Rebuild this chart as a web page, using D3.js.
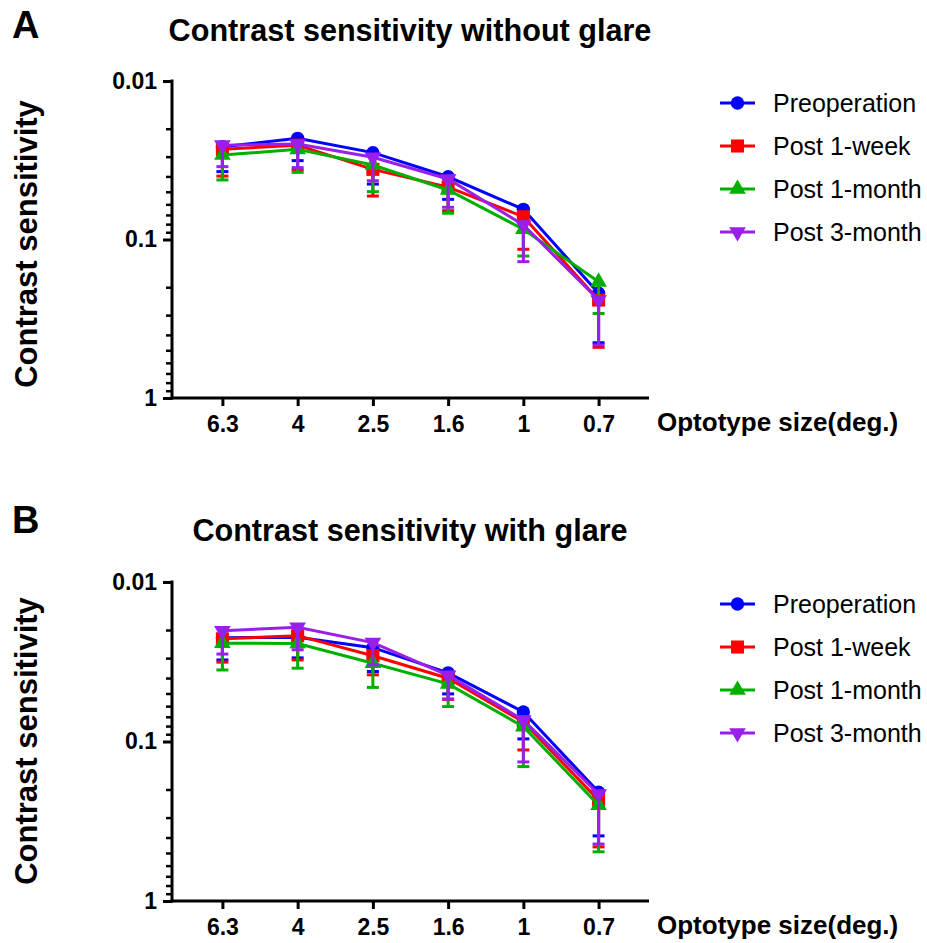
<!DOCTYPE html>
<html>
<head>
<meta charset="utf-8">
<script src="https://cdn.jsdelivr.net/npm/d3@7"></script>
<style>
  html, body { margin: 0; padding: 0; background: #fff; }
  svg { display: block; }
  text { font-family: "Liberation Sans", Arial, sans-serif; }
</style>
</head>
<body>
<svg id="chart" width="927" height="943"></svg>
<script>
// ---------------- data ----------------
const categories = ["6.3", "4", "2.5", "1.6", "1", "0.7"];
const seriesNames = ["Preoperation", "Post 1-week", "Post 1-month", "Post 3-month"];
const seriesColors = ["#0000FF", "#FF0000", "#00AF00", "#9B1FEA"];
const yTickValues = [0.01, 0.1, 1];
const yTickLabels = ["0.01", "0.1", "1"];

// Panel A: without glare (mean contrast threshold and SD)
const preA  = [0.0260, 0.0230, 0.0283, 0.0402, 0.0645, 0.218];
const wk1A  = [0.0270, 0.0254, 0.0361, 0.0467, 0.0718, 0.241];
const mo1A  = [0.0293, 0.0270, 0.0339, 0.0487, 0.0862, 0.185];
const mo3A  = [0.0254, 0.0250, 0.0303, 0.0415, 0.0810, 0.241];
const preA_sd = [0.0113, 0.0088, 0.0164, 0.0156, 0.025, 0.230];
const wk1A_sd = [0.0128, 0.0110, 0.0171, 0.0191, 0.0435, 0.238];
const mo1A_sd = [0.0128, 0.0107, 0.0160, 0.0196, 0.041, 0.108];
const mo3A_sd = [0.0093, 0.0102, 0.0123, 0.0211, 0.057, 0.222];

// Panel B: with glare
const preB  = [0.0224, 0.0222, 0.0258, 0.0371, 0.0653, 0.2076];
const wk1B  = [0.0227, 0.0217, 0.0290, 0.0401, 0.0755, 0.233];
const mo1B  = [0.0242, 0.0243, 0.0323, 0.0435, 0.0807, 0.2506];
const mo3B  = [0.0202, 0.0192, 0.0240, 0.0385, 0.0733, 0.2137];
const preB_sd = [0.0084, 0.0077, 0.0106, 0.0132, 0.031, 0.183];
const wk1B_sd = [0.0091, 0.0091, 0.0092, 0.0144, 0.0375, 0.225];
const mo1B_sd = [0.0114, 0.0104, 0.0135, 0.0169, 0.063, 0.241];
const mo3B_sd = [0.0081, 0.0074, 0.0091, 0.0156, 0.061, 0.226];

const panels = [
  { letter: "A", title: "Contrast sensitivity without glare", top: 81, bottom: 398,
    means: [preA, wk1A, mo1A, mo3A], sds: [preA_sd, wk1A_sd, mo1A_sd, mo3A_sd],
    legendY: 103, letterY: 38, titleY: 41, yTitleCy: 244 },
  { letter: "B", title: "Contrast sensitivity with glare", top: 582, bottom: 901,
    means: [preB, wk1B, mo1B, mo3B], sds: [preB_sd, wk1B_sd, mo1B_sd, mo3B_sd],
    legendY: 604, letterY: 533, titleY: 541, yTitleCy: 741 }
];

// ---------------- drawing ----------------
const svg = d3.select("#chart");
const left = 172, right = 649;

const symbolTypes = [d3.symbolCircle, d3.symbolSquare, d3.symbolTriangle, d3.symbolTriangle];
const symbolSizes = [140, 170, 120, 120];
const symbolRot = [0, 0, 0, 180];

function marker(g, i, x, y) {
  g.append("path")
    .attr("d", d3.symbol().type(symbolTypes[i]).size(symbolSizes[i])())
    .attr("transform", `translate(${x},${y}) rotate(${symbolRot[i]})`)
    .attr("fill", seriesColors[i]);
}

panels.forEach(p => {
  const g = svg.append("g");
  const x = d3.scalePoint().domain(categories).range([left, right]).padding(0.67);
  const y = d3.scaleLog().domain([0.01, 1]).range([p.top, p.bottom]);

  // letter & title
  g.append("text").attr("x", 12).attr("y", p.letterY)
    .attr("font-size", 38).attr("font-weight", "bold").text(p.letter);
  g.append("text").attr("x", 410).attr("y", p.titleY).attr("text-anchor", "middle")
    .attr("font-size", 30.6).attr("font-weight", "bold").text(p.title);

  // y axis title
  g.append("text")
    .attr("transform", `translate(37,${p.yTitleCy}) rotate(-90)`)
    .attr("text-anchor", "middle").attr("font-size", 31).attr("font-weight", "bold")
    .text("Contrast sensitivity");

  // y axis: minor ticks
  const minor = [];
  for (let d = 0.01; d < 1; d *= 10) for (let k = 2; k <= 9; k++) minor.push(+(d * k).toPrecision(3));
  const yAxisMinor = d3.axisLeft(y).tickValues(minor).tickSize(6).tickFormat("");
  const ya = g.append("g").attr("transform", `translate(${left},0)`).call(yAxisMinor);
  ya.select(".domain").remove();
  ya.selectAll("line").attr("stroke", "#000").attr("stroke-width", 2.5);

  const yAxisMajor = d3.axisLeft(y).tickValues(yTickValues).tickSize(9)
    .tickFormat((d, i) => yTickLabels[i]).tickPadding(6);
  const yb = g.append("g").attr("transform", `translate(${left},0)`).call(yAxisMajor);
  yb.select(".domain").remove();
  yb.selectAll("line").attr("stroke", "#000").attr("stroke-width", 3);
  yb.selectAll("text").attr("font-size", 23).attr("font-weight", "bold")
    .attr("fill", "#000").attr("font-family", "'Liberation Sans', Arial, sans-serif");

  g.append("line").attr("x1", left).attr("x2", left)
    .attr("y1", p.top - 1.5).attr("y2", p.bottom + 1.5)
    .attr("stroke", "#000").attr("stroke-width", 3);

  // x axis
  const xAxis = d3.axisBottom(x).tickSize(8).tickPadding(10);
  const xa = g.append("g").attr("transform", `translate(0,${p.bottom})`).call(xAxis);
  xa.select(".domain").remove();
  xa.selectAll("line").attr("stroke", "#000").attr("stroke-width", 3);
  xa.selectAll("text").attr("font-size", 23).attr("font-weight", "bold")
    .attr("fill", "#000").attr("font-family", "'Liberation Sans', Arial, sans-serif");
  g.append("line").attr("x1", left - 1.5).attr("x2", right)
    .attr("y1", p.bottom).attr("y2", p.bottom)
    .attr("stroke", "#000").attr("stroke-width", 3);
  g.append("text").attr("x", 657).attr("y", p.bottom + 33)
    .attr("font-size", 26).attr("font-weight", "bold").text("Optotype size(deg.)");

  // series
  p.means.forEach((vals, si) => {
    const sg = g.append("g");
    const col = seriesColors[si];
    // error bars (one-sided, mean + SD)
    vals.forEach((v, i) => {
      const cx = x(categories[i]);
      const yEnd = y(v + p.sds[si][i]);
      sg.append("line").attr("x1", cx).attr("x2", cx).attr("y1", y(v)).attr("y2", yEnd)
        .attr("stroke", col).attr("stroke-width", 3);
      sg.append("line").attr("x1", cx - 6).attr("x2", cx + 6).attr("y1", yEnd).attr("y2", yEnd)
        .attr("stroke", col).attr("stroke-width", 3);
    });
    sg.append("path")
      .datum(vals)
      .attr("fill", "none").attr("stroke", col).attr("stroke-width", 3)
      .attr("d", d3.line().x((d, i) => x(categories[i])).y(d => y(d)));
    vals.forEach((v, i) => marker(sg, si, x(categories[i]), y(v)));
  });

  // legend
  seriesNames.forEach((name, si) => {
    const ly = p.legendY + si * 43;
    const lg = g.append("g");
    lg.append("line").attr("x1", 720).attr("x2", 755).attr("y1", ly).attr("y2", ly)
      .attr("stroke", seriesColors[si]).attr("stroke-width", 3);
    marker(lg, si, 737.5, ly);
    lg.append("text").attr("x", 773).attr("y", ly + 9)
      .attr("font-size", 25).text(name);
  });
});
</script>
</body>
</html>
